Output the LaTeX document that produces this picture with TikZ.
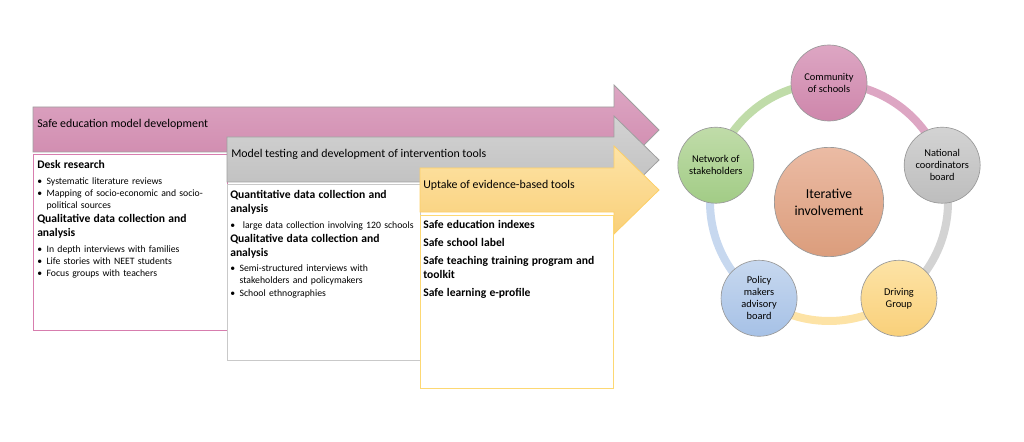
\documentclass[tikz,border=0pt]{standalone}
\usepackage{fontspec}
\setmainfont{Carlito}
\usetikzlibrary{calc}
\definecolor{rosetop}{HTML}{DDA6C3}
\definecolor{rosebot}{HTML}{CE86AB}
\definecolor{rosebox}{HTML}{D77DAE}
\definecolor{greytop}{HTML}{D3D3D3}
\definecolor{greybot}{HTML}{BDBDBD}
\definecolor{greybox}{HTML}{C9C9C9}
\definecolor{yeltop}{HTML}{FDE3A6}
\definecolor{yelbot}{HTML}{F9D07A}
\definecolor{yelbox}{HTML}{FDD873}
\definecolor{bluetop}{HTML}{C7D8EF}
\definecolor{bluebot}{HTML}{A6C1E6}
\definecolor{greentop}{HTML}{C0DCA9}
\definecolor{greenbot}{HTML}{A2CC86}
\definecolor{peachtop}{HTML}{EBBBA4}
\definecolor{peachbot}{HTML}{DB9D7C}
\newcommand{\puce}[1]{\par\hangindent=7pt\hangafter=1\noindent\makebox[7pt][l]{\textbullet}#1\par}
\newcommand{\titre}[1]{{\fontsize{8.7}{10.5}\selectfont\bfseries #1\par}}
\tikzset{
  band/.style={draw=#1, line width=0.6pt},
  bandtxt/.style={anchor=west, inner sep=0pt, font=\fontsize{8.9}{10}\selectfont},
  listbox/.style={draw=#1, line width=0.6pt, fill=white},
  listtxt/.style={anchor=north west, inner sep=0pt, text width=145pt, align=left,
                  font=\fontsize{7.3}{9.2}\selectfont},
  member/.style={circle, draw=gray!80, line width=0.5pt, minimum size=57pt, inner sep=0pt,
                 align=center, font=\fontsize{7.8}{9}\selectfont},
  ringarc/.style={draw=#1, line width=6pt},
}
\begin{document}
\begin{tikzpicture}[x=0.75pt, y=0.75pt]
  \useasboundingbox (0,0) rectangle (1024,-442);

  % phase 1
  \path[band=gray!75, top color=rosetop, bottom color=rosebot]
    (33,-107) -- (614,-107) -- (614,-85) -- (659,-130) -- (614,-175) -- (614,-152) -- (33,-152) -- cycle;
  \node[bandtxt] (p1) at (37,-124) {Safe education model development};
  \path[listbox=rosebox] (33,-154) rectangle (227,-330);
  \node[listtxt] (l1) at (37,-160) {%
    \titre{Desk research}\vspace{2.5pt}
    \puce{Systematic literature reviews}
    \puce{Mapping of socio-economic and socio-\newline political sources}
    \titre{Qualitative data collection and\\analysis}\vspace{2.5pt}
    \puce{In depth interviews with families}
    \puce{Life stories with NEET students}
    \puce{Focus groups with teachers}};

  % phase 2
  \path[band=gray!75, top color=greytop, bottom color=greybot]
    (227,-137) -- (614,-137) -- (614,-116) -- (659,-160) -- (614,-204) -- (614,-182) -- (227,-182) -- cycle;
  \node[bandtxt] (p2) at (231,-154) {Model testing and development of intervention tools};
  \path[listbox=greybox] (227,-184) rectangle (420,-360);
  \node[listtxt] (l2) at (230,-190) {%
    \titre{Quantitative data collection and\\analysis}\vspace{2.5pt}
    \puce{ large data collection involving 120 schools}
    \titre{Qualitative data collection and\\analysis}\vspace{2.5pt}
    \puce{Semi-structured interviews with\newline stakeholders and policymakers}
    \puce{School ethnographies}};

  % phase 3
  \path[band=yelbox!90!orange, top color=yeltop, bottom color=yelbot]
    (420,-168) -- (614,-168) -- (614,-146) -- (659,-190) -- (614,-234) -- (614,-212) -- (420,-212) -- cycle;
  \node[bandtxt] (p3) at (423,-185) {Uptake of evidence-based tools};
  \path[listbox=yelbox] (420,-215) rectangle (613,-388);
  \node[listtxt] (l3) at (423,-220) {%
    \titre{Safe education indexes}\vspace{3pt}
    \titre{Safe school label}\vspace{3pt}
    \titre{Safe teaching training program and\\toolkit}\vspace{3pt}
    \titre{Safe learning e-profile}};

  % cycle
  \coordinate (ring) at (829,-202);
  \draw[ringarc=rosetop]  ($(ring)+(90:119)$)   arc[start angle=90,   end angle=18,   radius=119];
  \draw[ringarc=greytop]  ($(ring)+(18:119)$)   arc[start angle=18,   end angle=-54,  radius=119];
  \draw[ringarc=yeltop]   ($(ring)+(-54:119)$)  arc[start angle=-54,  end angle=-126, radius=119];
  \draw[ringarc=bluetop]  ($(ring)+(-126:119)$) arc[start angle=-126, end angle=-198, radius=119];
  \draw[ringarc=greentop] ($(ring)+(162:119)$)  arc[start angle=162,  end angle=90,   radius=119];

  \node[member, top color=rosetop, bottom color=rosebot] (community) at ($(ring)+(90:119)$) {Community\\of schools};
  \node[member, top color=greytop, bottom color=greybot] (national) at ($(ring)+(18:119)$) {National\\coordinators\\board};
  \node[member, top color=yeltop, bottom color=yelbot] (driving) at ($(ring)+(-54:119)$) {Driving\\Group};
  \node[member, top color=bluetop, bottom color=bluebot] (policy) at ($(ring)+(-126:119)$) {Policy\\makers\\advisory\\board};
  \node[member, top color=greentop, bottom color=greenbot] (network) at ($(ring)+(162:119)$) {Network of\\stakeholders};
  \node[member, minimum size=82pt, top color=peachtop, bottom color=peachbot,
        font=\fontsize{10.3}{12.5}\selectfont] (centre) at (ring) {Iterative\\involvement};
\end{tikzpicture}
\end{document}
